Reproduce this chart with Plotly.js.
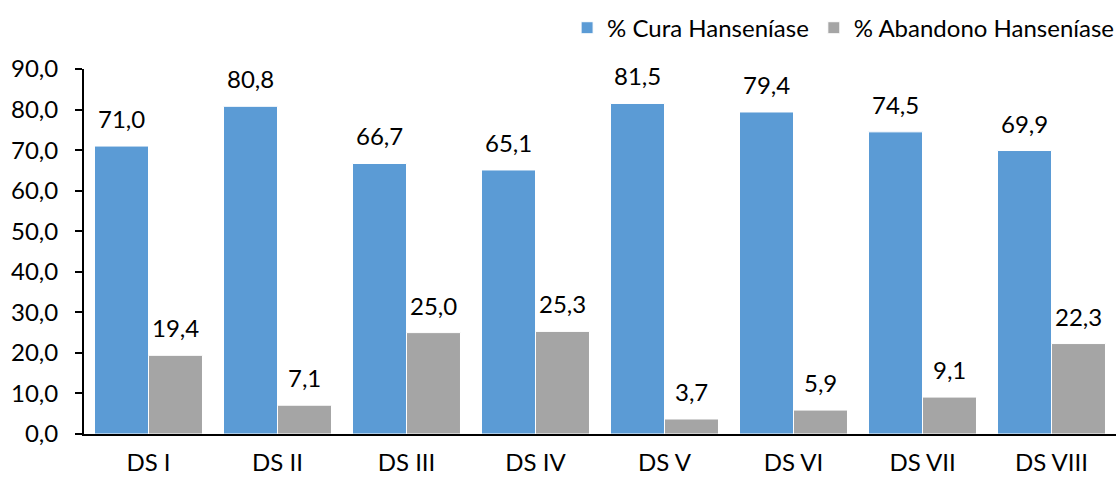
<!DOCTYPE html>
<html><head><meta charset="utf-8">
<script src="https://cdn.plot.ly/plotly-3.0.1.min.js"></script>
<style>html,body{margin:0;padding:0;background:#fff}#chart{width:1118px;height:478px}</style>
</head><body><div id="chart"></div>
<script>
const categories = ["DS I","DS II","DS III","DS IV","DS V","DS VI","DS VII","DS VIII"];
const cura = [71.0, 80.8, 66.7, 65.1, 81.5, 79.4, 74.5, 69.9];
const abandono = [19.4, 7.1, 25.0, 25.3, 3.7, 5.9, 9.1, 22.3];
const yTicks = [0,10,20,30,40,50,60,70,80,90];

const idx = categories.map((c,i)=>i);
const FONT = 'Lato, "Open Sans", sans-serif';
const FS = 24;
const bargap = 0.163;
const half = (1-bargap)/4;

const traces = [
  {type:'bar', name:'% Cura Hanseníase', x: idx, y: cura,
   marker:{color:'#5B9BD5', line:{color:'#ffffff', width:1}}, hoverinfo:'none'},
  {type:'bar', name:'% Abandono Hanseníase', x: idx, y: abandono,
   marker:{color:'#A5A5A5', line:{color:'#ffffff', width:1}}, hoverinfo:'none'}
];

const fmt = v => v.toFixed(1).replace('.', ',');
const annotations = [];
idx.forEach(i=>{
  annotations.push({x: i-half, y: cura[i], xref:'x', yref:'y', text: fmt(cura[i]),
    showarrow:false, yanchor:'bottom', yshift:11, font:{family:FONT,size:FS,color:'#000'}});
  annotations.push({x: i+half, y: abandono[i], xref:'x', yref:'y', text: fmt(abandono[i]),
    showarrow:false, yanchor:'bottom', yshift:11, font:{family:FONT,size:FS,color:'#000'}});
});

const layout = {
  width:1118, height:478,
  margin:{l:84, r:2, t:69, b:44, autoexpand:false},
  paper_bgcolor:'#fff', plot_bgcolor:'#fff',
  separators: ',.',
  barmode:'group', bargap: bargap, bargroupgap:0,
  font:{family:FONT, size:FS, color:'#000'},
  showlegend:true,
  legend:{orientation:'h', x:1.003, xanchor:'right', y:1.112, yanchor:'middle',
    font:{family:FONT, size:FS, color:'#000'}, itemwidth:30, traceorder:'normal'},
  xaxis:{range:[-0.5, 7.5], tickvals: idx, ticktext: categories, showgrid:false, zeroline:false,
    showline:true, linecolor:'#000', linewidth:2, ticks:'', ticklabelstandoff:6,
    tickfont:{family:FONT, size:FS, color:'#000'}, fixedrange:true},
  yaxis:{range:[0,90], tickvals: yTicks, tickformat:'.1f', showgrid:false, zeroline:false,
    showline:true, linecolor:'#000', linewidth:2, ticks:'outside', ticklen:7, tickwidth:2, tickcolor:'#000',
    ticklabelstandoff:12, tickfont:{family:FONT, size:FS, color:'#000'}, fixedrange:true},
  annotations: annotations
};
Plotly.newPlot('chart', traces, layout, {displayModeBar:false, staticPlot:true});
</script></body></html>
